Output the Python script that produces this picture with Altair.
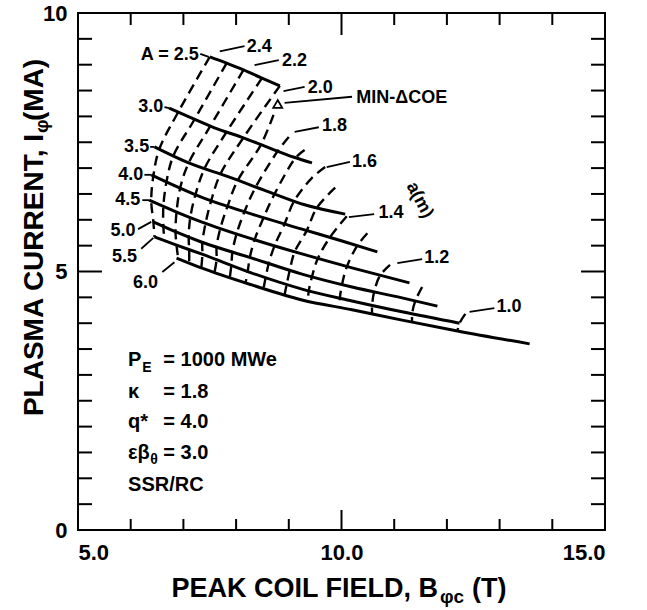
import altair as alt
import pandas as pd

FONT = "Liberation Sans"

# ---------------- data ----------------
# Solid curves: constant aspect ratio A.  Points are (B_phi_c [T], I_phi [MA])
A_2_5 = [(7.50, 9.15), (7.82, 9.03), (8.14, 8.90), (8.49, 8.74), (8.83, 8.59)]
A_3_0 = [(6.73, 8.16), (7.15, 7.97), (7.59, 7.78), (8.10, 7.60), (8.58, 7.41), (9.10, 7.21), (9.44, 7.10)]
A_3_5 = [(6.45, 7.41), (7.10, 7.10), (7.86, 6.83), (8.62, 6.54), (9.30, 6.29), (10.07, 6.11)]
A_4_0 = [(6.39, 6.87), (7.34, 6.44), (8.30, 6.11), (9.25, 5.82), (10.01, 5.59), (10.68, 5.38)]
A_4_5 = [(6.35, 6.38), (6.87, 6.15), (7.34, 5.96), (8.30, 5.63), (9.25, 5.34), (10.20, 5.07), (11.29, 4.78)]
A_5_0 = [(6.43, 5.96), (6.87, 5.76), (7.34, 5.57), (8.30, 5.26), (9.25, 4.95), (10.20, 4.70), (11.15, 4.49), (11.82, 4.33)]
A_5_5 = [(6.45, 5.67), (6.87, 5.51), (7.34, 5.34), (8.30, 4.97), (9.25, 4.66), (10.20, 4.43), (11.15, 4.22), (12.24, 4.00)]
A_6_0 = [(6.87, 5.26), (7.34, 5.07), (8.30, 4.74), (9.25, 4.45), (10.20, 4.26), (11.15, 4.06), (12.20, 3.85), (13.57, 3.60)]

# Dashed curves: constant minor radius a (m), listed from top to bottom
a_2_4 = [(7.50, 9.15), (6.90, 8.08), (6.54, 7.36), (6.43, 6.85), (6.39, 6.37), (6.43, 5.96), (6.45, 5.67)]
a_2_3 = [(7.82, 9.03), (7.21, 7.94), (6.81, 7.24), (6.68, 6.74), (6.62, 6.26), (6.62, 5.87), (6.64, 5.60)]
a_2_2 = [(8.14, 8.90), (7.51, 7.81), (7.10, 7.10), (6.94, 6.62), (6.87, 6.15), (6.85, 5.77), (6.87, 5.51), (6.90, 5.25)]
a_2_1 = [(8.49, 8.74), (7.82, 7.70), (7.40, 6.99), (7.23, 6.49), (7.13, 6.04), (7.10, 5.67), (7.11, 5.42), (7.11, 5.16)]
a_2_0 = [(8.83, 8.59), (8.14, 7.59), (7.70, 6.88), (7.53, 6.38), (7.42, 5.93), (7.36, 5.56), (7.36, 5.33), (7.34, 5.07)]
a_1_9 = [(8.71, 8.03), (8.47, 7.45), (8.03, 6.76), (7.84, 6.27), (7.70, 5.83), (7.63, 5.48), (7.63, 5.23), (7.59, 4.98)]
a_1_8 = [(9.00, 7.60), (8.79, 7.33), (8.37, 6.63), (8.16, 6.16), (8.01, 5.73), (7.93, 5.38), (7.91, 5.12), (7.88, 4.88)]
a_1_7 = [(9.30, 7.35), (9.13, 7.20), (8.73, 6.50), (8.52, 6.04), (8.35, 5.61), (8.26, 5.27), (8.22, 5.00), (8.18, 4.78)]
a_1_6 = [(9.69, 7.02), (9.44, 6.81), (9.10, 6.36), (8.92, 5.92), (8.73, 5.50), (8.62, 5.16), (8.56, 4.88), (8.52, 4.67)]
a_1_5 = [(9.88, 6.62), (9.53, 6.23), (9.34, 5.79), (9.11, 5.38), (9.02, 5.03), (8.96, 4.75), (8.92, 4.55)]
a_1_4 = [(10.10, 6.07), (9.78, 5.66), (9.55, 5.25), (9.44, 4.90), (9.38, 4.63), (9.36, 4.43)]
a_1_3 = [(10.49, 5.74), (10.30, 5.50), (10.10, 5.09), (10.01, 4.75), (9.97, 4.49), (9.97, 4.30)]
a_1_2 = [(10.92, 5.13), (10.73, 4.92), (10.62, 4.61), (10.58, 4.34), (10.58, 4.18)]
a_1_1 = [(11.53, 4.70), (11.40, 4.43), (11.34, 4.18), (11.34, 4.02)]
a_1_0 = [(12.35, 4.18), (12.24, 4.00), (12.20, 3.85)]

# Curve labels (text, B, I)
A_LABELS = ["A = 2.5", "3.0", "3.5", "4.0", "4.5", "5.0", "5.5", "6.0"]
A_LABEL_B = [7.29, 6.62, 6.35, 6.24, 6.18, 6.09, 6.12, 6.52]
A_LABEL_I = [9.19, 8.18, 7.41, 6.87, 6.38, 5.78, 5.28, 4.78]

R_LABELS = ["2.4", "2.2", "2.0", "MIN-\u0394COE", "1.8", "1.6", "1.4", "1.2", "1.0"]
R_LABEL_B = [8.20, 8.87, 9.36, 10.28, 9.63, 10.20, 10.70, 11.57, 12.94]
R_LABEL_I = [9.34, 9.07, 8.55, 8.36, 7.81, 7.12, 6.13, 5.26, 4.31]

# Leader strokes from labels to curves
LEAD_B0 = [7.32, 6.64, 6.37, 6.26, 6.22, 6.14, 6.20, 6.60, 7.69, 8.35, 8.90, 8.92, 9.11, 9.72, 10.14, 11.06, 12.43]
LEAD_I0 = [9.21, 8.18, 7.41, 6.87, 6.38, 5.82, 5.44, 4.99, 9.26, 8.99, 8.49, 8.26, 7.70, 7.02, 6.05, 5.16, 4.22]
LEAD_B1 = [7.48, 6.73, 6.45, 6.39, 6.35, 6.39, 6.43, 6.83, 8.16, 8.81, 9.30, 10.20, 9.57, 10.16, 10.62, 11.53, 12.90]
LEAD_I1 = [9.15, 8.16, 7.41, 6.87, 6.38, 5.96, 5.65, 5.18, 9.36, 9.09, 8.57, 8.38, 7.79, 7.12, 6.11, 5.24, 4.29]

# Minimum-COE point
MIN_B = [8.79]
MIN_I = [8.24]

# Axis ticks
X_TICK_LABELS = [5, 10, 15]
Y_TICK_LABELS = [0, 5, 10]
X_MINOR = [6, 7, 8, 9, 11, 12, 13, 14]
X_MAJOR = [10]
Y_MINOR = [0.5, 1.0, 1.5, 2.0, 2.5, 3.0, 3.5, 4.0, 4.5, 5.5, 6.0, 6.5, 7.0, 7.5, 8.0, 8.5, 9.0, 9.5]
Y_MAJOR = [5]

# Parameter block
PARAM_MAIN = ["P", "\u03ba", "q*", "\u03b5\u03b2", "SSR/RC"]
PARAM_MAIN_B = [5.95, 5.95, 5.95, 5.95, 5.95]
PARAM_MAIN_I = [3.29, 2.67, 2.09, 1.49, 0.87]
PARAM_SUB = ["E", "\u03b8"]
PARAM_SUB_B = [6.22, 6.37]
PARAM_SUB_I = [3.13, 1.35]
PARAM_VAL = ["= 1000 MWe", "= 1.8", "= 4.0", "= 3.0"]
PARAM_VAL_B = [6.62, 6.62, 6.62, 6.62]
PARAM_VAL_I = [3.29, 2.67, 2.09, 1.49]

# ---------------- build tables ----------------
SOLID = {"2.5": A_2_5, "3.0": A_3_0, "3.5": A_3_5, "4.0": A_4_0,
         "4.5": A_4_5, "5.0": A_5_0, "5.5": A_5_5, "6.0": A_6_0}
DASHED = {"2.4": a_2_4, "2.3": a_2_3, "2.2": a_2_2, "2.1": a_2_1, "2.0": a_2_0,
          "1.9": a_1_9, "1.8": a_1_8, "1.7": a_1_7, "1.6": a_1_6, "1.5": a_1_5,
          "1.4": a_1_4, "1.3": a_1_3, "1.2": a_1_2, "1.1": a_1_1, "1.0": a_1_0}


def curves_frame(curves, key):
    rows = []
    for name, pts in curves.items():
        for k, (b, i) in enumerate(pts):
            rows.append({key: name, "k": k, "B": b, "I": i})
    return pd.DataFrame(rows)


solid_df = curves_frame(SOLID, "A")
dash_df = curves_frame(DASHED, "a")

W, H = 527, 517

xs = alt.Scale(domain=[5, 15], nice=False, zero=False)
ys = alt.Scale(domain=[0, 10], nice=False, zero=False)
ax_x = alt.Axis(values=X_TICK_LABELS, format=".1f", ticks=False, tickSize=0, domain=False,
                grid=False, labelFont=FONT, labelFontSize=22, labelFontWeight="bold",
                labelColor="black", labelPadding=12, title=None, labelOverlap=False)
ax_y = alt.Axis(values=Y_TICK_LABELS, format="d", ticks=False, tickSize=0, domain=False,
                grid=False, labelFont=FONT, labelFontSize=22, labelFontWeight="bold",
                labelColor="black", labelPadding=11, title=None, labelOverlap=False)


def X(f):
    return alt.X(f, type="quantitative", scale=xs, axis=ax_x)


def Y(f):
    return alt.Y(f, type="quantitative", scale=ys, axis=ax_y)


solid = alt.Chart(solid_df).mark_line(
    color="black", strokeWidth=3, interpolate="monotone"
).encode(x=X("B"), y=Y("I"), detail="A:N", order="k:Q")

dashed = alt.Chart(dash_df).mark_line(
    color="black", strokeWidth=2.4, strokeDash=[10, 6], interpolate="catmull-rom"
).encode(x=X("B"), y=Y("I"), detail="a:N", order="k:Q")

leaders = alt.Chart(pd.DataFrame({"B0": LEAD_B0, "I0": LEAD_I0, "B1": LEAD_B1, "I1": LEAD_I1})).mark_rule(
    color="black", strokeWidth=1.8
).encode(x=X("B0"), y=Y("I0"), x2="B1", y2="I1")

tri = alt.Chart(pd.DataFrame({"B": MIN_B, "I": MIN_I})).mark_point(
    shape="triangle-up", filled=False, color="black", size=80, strokeWidth=1.8, opacity=1
).encode(x=X("B"), y=Y("I"))

txt_style = dict(font=FONT, fontWeight="bold", color="black", baseline="middle")

a_lab = alt.Chart(pd.DataFrame({"t": A_LABELS, "B": A_LABEL_B, "I": A_LABEL_I})).mark_text(
    align="right", fontSize=18, **txt_style
).encode(x=X("B"), y=Y("I"), text="t:N")

r_lab = alt.Chart(pd.DataFrame({"t": R_LABELS, "B": R_LABEL_B, "I": R_LABEL_I})).mark_text(
    align="left", fontSize=18, **txt_style
).encode(x=X("B"), y=Y("I"), text="t:N")

am_lab = alt.Chart(pd.DataFrame({"t": ["a(m)"], "B": [11.48], "I": [6.38]})).mark_text(
    align="center", fontSize=18, angle=62, **txt_style
).encode(x=X("B"), y=Y("I"), text="t:N")

p_main = alt.Chart(pd.DataFrame({"t": PARAM_MAIN, "B": PARAM_MAIN_B, "I": PARAM_MAIN_I})).mark_text(
    align="left", fontSize=20, **txt_style
).encode(x=X("B"), y=Y("I"), text="t:N")

p_sub = alt.Chart(pd.DataFrame({"t": PARAM_SUB, "B": PARAM_SUB_B, "I": PARAM_SUB_I})).mark_text(
    align="left", fontSize=14, **txt_style
).encode(x=X("B"), y=Y("I"), text="t:N")

p_val = alt.Chart(pd.DataFrame({"t": PARAM_VAL, "B": PARAM_VAL_B, "I": PARAM_VAL_I})).mark_text(
    align="left", fontSize=20, **txt_style
).encode(x=X("B"), y=Y("I"), text="t:N")

# inward ticks on all four sides
tick_style = dict(color="black", strokeWidth=2)
xb_minor = alt.Chart(pd.DataFrame({"B": X_MINOR})).mark_rule(**tick_style).encode(
    x=X("B"), y=alt.value(H), y2=alt.value(H - 11))
xb_major = alt.Chart(pd.DataFrame({"B": X_MAJOR})).mark_rule(**tick_style).encode(
    x=X("B"), y=alt.value(H), y2=alt.value(H - 20))
xt_minor = alt.Chart(pd.DataFrame({"B": X_MINOR})).mark_rule(**tick_style).encode(
    x=X("B"), y=alt.value(0), y2=alt.value(12))
xt_major = alt.Chart(pd.DataFrame({"B": X_MAJOR})).mark_rule(**tick_style).encode(
    x=X("B"), y=alt.value(0), y2=alt.value(22))
yl_minor = alt.Chart(pd.DataFrame({"I": Y_MINOR})).mark_rule(**tick_style).encode(
    y=Y("I"), x=alt.value(0), x2=alt.value(14))
yl_major = alt.Chart(pd.DataFrame({"I": Y_MAJOR})).mark_rule(**tick_style).encode(
    y=Y("I"), x=alt.value(0), x2=alt.value(24))
yr_minor = alt.Chart(pd.DataFrame({"I": Y_MINOR})).mark_rule(**tick_style).encode(
    y=Y("I"), x=alt.value(W), x2=alt.value(W - 14))
yr_major = alt.Chart(pd.DataFrame({"I": Y_MAJOR})).mark_rule(**tick_style).encode(
    y=Y("I"), x=alt.value(W), x2=alt.value(W - 24))

# axis titles with subscripts
xt1 = alt.Chart(pd.DataFrame({"t": ["PEAK COIL FIELD, B"]})).mark_text(
    align="right", baseline="alphabetic", font=FONT, fontSize=27, fontWeight="bold", color="black").encode(
    x=alt.value(360), y=alt.value(584), text="t:N")
xt2 = alt.Chart(pd.DataFrame({"t": ["\u03c6c"]})).mark_text(
    align="left", baseline="alphabetic", font=FONT, fontSize=19, fontWeight="bold", color="black").encode(
    x=alt.value(362), y=alt.value(590), text="t:N")
xt3 = alt.Chart(pd.DataFrame({"t": ["(T)"]})).mark_text(
    align="left", baseline="alphabetic", font=FONT, fontSize=27, fontWeight="bold", color="black").encode(
    x=alt.value(394), y=alt.value(584), text="t:N")

yt1 = alt.Chart(pd.DataFrame({"t": ["PLASMA CURRENT, I"]})).mark_text(
    align="right", baseline="alphabetic", font=FONT, fontSize=28, fontWeight="bold", color="black",
    angle=270).encode(x=alt.value(-35), y=alt.value(121), text="t:N")
yt2 = alt.Chart(pd.DataFrame({"t": ["\u03c6"]})).mark_text(
    align="left", baseline="alphabetic", font=FONT, fontSize=19, fontWeight="bold", color="black",
    angle=270).encode(x=alt.value(-30), y=alt.value(120), text="t:N")
yt3 = alt.Chart(pd.DataFrame({"t": ["(MA)"]})).mark_text(
    align="left", baseline="alphabetic", font=FONT, fontSize=28, fontWeight="bold", color="black",
    angle=270).encode(x=alt.value(-35), y=alt.value(108), text="t:N")

chart = alt.layer(
    solid, dashed, leaders, tri, a_lab, r_lab, am_lab, p_main, p_sub, p_val,
    xb_minor, xb_major, xt_minor, xt_major, yl_minor, yl_major, yr_minor, yr_major,
    xt1, xt2, xt3, yt1, yt2, yt3
).properties(
    width=W, height=H,
    autosize=alt.AutoSizeParams(type="none"),
    padding={"left": 78, "top": 13, "right": 42, "bottom": 80},
    background="white",
).configure_view(stroke="black", strokeWidth=2)

chart.save("out.html", embed_options={"renderer": "svg", "actions": False})
